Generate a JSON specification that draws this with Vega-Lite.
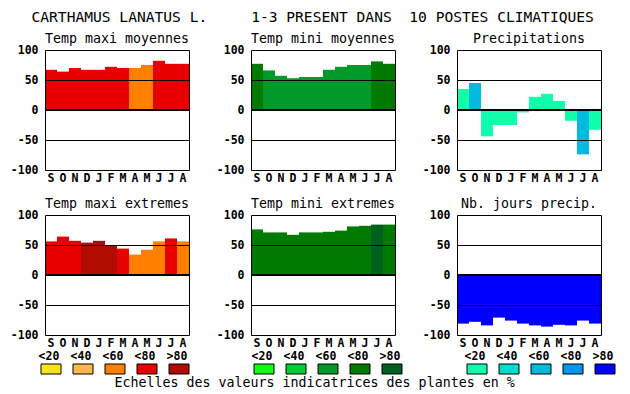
{
  "$schema": "https://vega.github.io/schema/vega-lite/v6.json",
  "padding": {"left": 10, "top": 10, "right": 2, "bottom": 2},
  "background": "white",
  "title": {"text": "CARTHAMUS LANATUS L.\u00a0\u00a0\u00a0\u00a0\u00a01-3 PRESENT DANS\u00a0\u00a010 POSTES CLIMATIQUES", "fontSize": 14.6, "anchor": "middle", "frame": "bounds", "baseline": "top", "offset": 7, "dx": -8},
  "datasets": {
    "mesures": [
      {"panneau": "Temp maxi moyennes", "mois": "sept", "valeur": 67, "classe": "maxi <80"},
      {"panneau": "Temp maxi moyennes", "mois": "oct", "valeur": 64, "classe": "maxi <80"},
      {"panneau": "Temp maxi moyennes", "mois": "nov", "valeur": 70, "classe": "maxi <80"},
      {"panneau": "Temp maxi moyennes", "mois": "dec", "valeur": 67, "classe": "maxi <80"},
      {"panneau": "Temp maxi moyennes", "mois": "janv", "valeur": 67, "classe": "maxi <80"},
      {"panneau": "Temp maxi moyennes", "mois": "fevr", "valeur": 72, "classe": "maxi <80"},
      {"panneau": "Temp maxi moyennes", "mois": "mars", "valeur": 70, "classe": "maxi <80"},
      {"panneau": "Temp maxi moyennes", "mois": "avr", "valeur": 70, "classe": "maxi <60"},
      {"panneau": "Temp maxi moyennes", "mois": "mai", "valeur": 75, "classe": "maxi <60"},
      {"panneau": "Temp maxi moyennes", "mois": "juin", "valeur": 82, "classe": "maxi <80"},
      {"panneau": "Temp maxi moyennes", "mois": "juil", "valeur": 77, "classe": "maxi <80"},
      {"panneau": "Temp maxi moyennes", "mois": "aout", "valeur": 77, "classe": "maxi <80"},
      {"panneau": "Temp mini moyennes", "mois": "sept", "valeur": 77, "classe": "mini <80"},
      {"panneau": "Temp mini moyennes", "mois": "oct", "valeur": 66, "classe": "mini <60"},
      {"panneau": "Temp mini moyennes", "mois": "nov", "valeur": 57, "classe": "mini <60"},
      {"panneau": "Temp mini moyennes", "mois": "dec", "valeur": 53, "classe": "mini <60"},
      {"panneau": "Temp mini moyennes", "mois": "janv", "valeur": 55, "classe": "mini <60"},
      {"panneau": "Temp mini moyennes", "mois": "fevr", "valeur": 55, "classe": "mini <60"},
      {"panneau": "Temp mini moyennes", "mois": "mars", "valeur": 67, "classe": "mini <60"},
      {"panneau": "Temp mini moyennes", "mois": "avr", "valeur": 72, "classe": "mini <60"},
      {"panneau": "Temp mini moyennes", "mois": "mai", "valeur": 75, "classe": "mini <60"},
      {"panneau": "Temp mini moyennes", "mois": "juin", "valeur": 75, "classe": "mini <60"},
      {"panneau": "Temp mini moyennes", "mois": "juil", "valeur": 81, "classe": "mini <80"},
      {"panneau": "Temp mini moyennes", "mois": "aout", "valeur": 77, "classe": "mini <80"},
      {"panneau": "Precipitations", "mois": "sept", "valeur": 35, "classe": "prec <20"},
      {"panneau": "Precipitations", "mois": "oct", "valeur": 45, "classe": "prec <60"},
      {"panneau": "Precipitations", "mois": "nov", "valeur": -44, "classe": "prec <20"},
      {"panneau": "Precipitations", "mois": "dec", "valeur": -25, "classe": "prec <20"},
      {"panneau": "Precipitations", "mois": "janv", "valeur": -25, "classe": "prec <20"},
      {"panneau": "Precipitations", "mois": "fevr", "valeur": -4, "classe": "prec <20"},
      {"panneau": "Precipitations", "mois": "mars", "valeur": 22, "classe": "prec <20"},
      {"panneau": "Precipitations", "mois": "avr", "valeur": 27, "classe": "prec <20"},
      {"panneau": "Precipitations", "mois": "mai", "valeur": 15, "classe": "prec <20"},
      {"panneau": "Precipitations", "mois": "juin", "valeur": -18, "classe": "prec <20"},
      {"panneau": "Precipitations", "mois": "juil", "valeur": -74, "classe": "prec <60"},
      {"panneau": "Precipitations", "mois": "aout", "valeur": -33, "classe": "prec <20"},
      {"panneau": "Temp maxi extremes", "mois": "sept", "valeur": 56, "classe": "maxi <80"},
      {"panneau": "Temp maxi extremes", "mois": "oct", "valeur": 64, "classe": "maxi <80"},
      {"panneau": "Temp maxi extremes", "mois": "nov", "valeur": 57, "classe": "maxi <80"},
      {"panneau": "Temp maxi extremes", "mois": "dec", "valeur": 54, "classe": "maxi >80"},
      {"panneau": "Temp maxi extremes", "mois": "janv", "valeur": 57, "classe": "maxi >80"},
      {"panneau": "Temp maxi extremes", "mois": "fevr", "valeur": 50, "classe": "maxi >80"},
      {"panneau": "Temp maxi extremes", "mois": "mars", "valeur": 44, "classe": "maxi <80"},
      {"panneau": "Temp maxi extremes", "mois": "avr", "valeur": 34, "classe": "maxi <60"},
      {"panneau": "Temp maxi extremes", "mois": "mai", "valeur": 42, "classe": "maxi <60"},
      {"panneau": "Temp maxi extremes", "mois": "juin", "valeur": 56, "classe": "maxi <60"},
      {"panneau": "Temp maxi extremes", "mois": "juil", "valeur": 61, "classe": "maxi <80"},
      {"panneau": "Temp maxi extremes", "mois": "aout", "valeur": 56, "classe": "maxi <60"},
      {"panneau": "Temp mini extremes", "mois": "sept", "valeur": 76, "classe": "mini <80"},
      {"panneau": "Temp mini extremes", "mois": "oct", "valeur": 71, "classe": "mini <80"},
      {"panneau": "Temp mini extremes", "mois": "nov", "valeur": 71, "classe": "mini <80"},
      {"panneau": "Temp mini extremes", "mois": "dec", "valeur": 67, "classe": "mini <80"},
      {"panneau": "Temp mini extremes", "mois": "janv", "valeur": 71, "classe": "mini <80"},
      {"panneau": "Temp mini extremes", "mois": "fevr", "valeur": 71, "classe": "mini <80"},
      {"panneau": "Temp mini extremes", "mois": "mars", "valeur": 72, "classe": "mini <80"},
      {"panneau": "Temp mini extremes", "mois": "avr", "valeur": 74, "classe": "mini <80"},
      {"panneau": "Temp mini extremes", "mois": "mai", "valeur": 81, "classe": "mini <80"},
      {"panneau": "Temp mini extremes", "mois": "juin", "valeur": 82, "classe": "mini <80"},
      {"panneau": "Temp mini extremes", "mois": "juil", "valeur": 84, "classe": "mini >80"},
      {"panneau": "Temp mini extremes", "mois": "aout", "valeur": 84, "classe": "mini <80"},
      {"panneau": "Nb. jours precip.", "mois": "sept", "valeur": -81, "classe": "prec >80"},
      {"panneau": "Nb. jours precip.", "mois": "oct", "valeur": -78, "classe": "prec >80"},
      {"panneau": "Nb. jours precip.", "mois": "nov", "valeur": -84, "classe": "prec >80"},
      {"panneau": "Nb. jours precip.", "mois": "dec", "valeur": -71, "classe": "prec >80"},
      {"panneau": "Nb. jours precip.", "mois": "janv", "valeur": -76, "classe": "prec >80"},
      {"panneau": "Nb. jours precip.", "mois": "fevr", "valeur": -81, "classe": "prec >80"},
      {"panneau": "Nb. jours precip.", "mois": "mars", "valeur": -84, "classe": "prec >80"},
      {"panneau": "Nb. jours precip.", "mois": "avr", "valeur": -86, "classe": "prec >80"},
      {"panneau": "Nb. jours precip.", "mois": "mai", "valeur": -83, "classe": "prec >80"},
      {"panneau": "Nb. jours precip.", "mois": "juin", "valeur": -84, "classe": "prec >80"},
      {"panneau": "Nb. jours precip.", "mois": "juil", "valeur": -76, "classe": "prec >80"},
      {"panneau": "Nb. jours precip.", "mois": "aout", "valeur": -81, "classe": "prec >80"}
    ],
    "legende": [
      {"palette": "maxi", "seuil": "<20", "classe": "maxi <20"},
      {"palette": "maxi", "seuil": "<40", "classe": "maxi <40"},
      {"palette": "maxi", "seuil": "<60", "classe": "maxi <60"},
      {"palette": "maxi", "seuil": "<80", "classe": "maxi <80"},
      {"palette": "maxi", "seuil": ">80", "classe": "maxi >80"},
      {"palette": "mini", "seuil": "<20", "classe": "mini <20"},
      {"palette": "mini", "seuil": "<40", "classe": "mini <40"},
      {"palette": "mini", "seuil": "<60", "classe": "mini <60"},
      {"palette": "mini", "seuil": "<80", "classe": "mini <80"},
      {"palette": "mini", "seuil": ">80", "classe": "mini >80"},
      {"palette": "prec", "seuil": "<20", "classe": "prec <20"},
      {"palette": "prec", "seuil": "<40", "classe": "prec <40"},
      {"palette": "prec", "seuil": "<60", "classe": "prec <60"},
      {"palette": "prec", "seuil": "<80", "classe": "prec <80"},
      {"palette": "prec", "seuil": ">80", "classe": "prec >80"}
    ]
  },
  "data": {"name": "mesures"},
  "spacing": 12,
  "vconcat": [
    {
      "spacing": 26,
      "hconcat": [
        {
          "title": "Temp maxi moyennes", "width": 144, "height": 120,
          "transform": [{"filter": "datum.panneau === 'Temp maxi moyennes'"}],
          "resolve": {"axis": {"y": "independent"}},
          "layer": [
            {"mark": "bar", "encoding": {
              "x": {"field": "mois", "type": "ordinal", "title": null, "sort": ["sept","oct","nov","dec","janv","fevr","mars","avr","mai","juin","juil","aout"], "scale": {"paddingInner": 0, "paddingOuter": 0}, "axis": {"orient": "bottom", "domain": false, "labelAngle": 0, "labelPadding": 2, "labelExpr": "upper(slice(datum.value, 0, 1))"}},
              "y": {"field": "valeur", "type": "quantitative", "title": null, "scale": {"domain": [-100, 100], "nice": false}, "axis": {"orient": "left", "values": [-100, -50, 0, 50, 100], "grid": true, "domain": true, "labelPadding": 7, "zindex": 1, "labelExpr": "toString(datum.value)"}},
              "y2": {"datum": 0},
              "color": {"field": "classe", "type": "nominal", "legend": null, "scale": {"domain": ["maxi <20","maxi <40","maxi <60","maxi <80","maxi >80","mini <20","mini <40","mini <60","mini <80","mini >80","prec <20","prec <40","prec <60","prec <80","prec >80"], "range": ["#f8e41c","#ffb84d","#ff8000","#e80000","#b00c00","#11ff11","#00cc33","#009a2a","#007a00","#006020","#11ffaa","#00ddcc","#00bbdd","#0099ee","#0000ff"]}}
            }},
            {"mark": {"type": "rule", "color": "black"}, "encoding": {
              "y": {"datum": 0, "type": "quantitative", "axis": {"orient": "right", "labels": false, "grid": false, "domain": true, "zindex": 1, "title": null}}
            }}
          ]
        },
        {
          "title": "Temp mini moyennes", "width": 144, "height": 120,
          "transform": [{"filter": "datum.panneau === 'Temp mini moyennes'"}],
          "resolve": {"axis": {"y": "independent"}},
          "layer": [
            {"mark": "bar", "encoding": {
              "x": {"field": "mois", "type": "ordinal", "title": null, "sort": ["sept","oct","nov","dec","janv","fevr","mars","avr","mai","juin","juil","aout"], "scale": {"paddingInner": 0, "paddingOuter": 0}, "axis": {"orient": "bottom", "domain": false, "labelAngle": 0, "labelPadding": 2, "labelExpr": "upper(slice(datum.value, 0, 1))"}},
              "y": {"field": "valeur", "type": "quantitative", "title": null, "scale": {"domain": [-100, 100], "nice": false}, "axis": {"orient": "left", "values": [-100, -50, 0, 50, 100], "grid": true, "domain": true, "labelPadding": 7, "zindex": 1, "labelExpr": "toString(datum.value)"}},
              "y2": {"datum": 0},
              "color": {"field": "classe", "type": "nominal", "legend": null, "scale": {"domain": ["maxi <20","maxi <40","maxi <60","maxi <80","maxi >80","mini <20","mini <40","mini <60","mini <80","mini >80","prec <20","prec <40","prec <60","prec <80","prec >80"], "range": ["#f8e41c","#ffb84d","#ff8000","#e80000","#b00c00","#11ff11","#00cc33","#009a2a","#007a00","#006020","#11ffaa","#00ddcc","#00bbdd","#0099ee","#0000ff"]}}
            }},
            {"mark": {"type": "rule", "color": "black"}, "encoding": {
              "y": {"datum": 0, "type": "quantitative", "axis": {"orient": "right", "labels": false, "grid": false, "domain": true, "zindex": 1, "title": null}}
            }}
          ]
        },
        {
          "title": "Precipitations", "width": 144, "height": 120,
          "transform": [{"filter": "datum.panneau === 'Precipitations'"}],
          "resolve": {"axis": {"y": "independent"}},
          "layer": [
            {"mark": "bar", "encoding": {
              "x": {"field": "mois", "type": "ordinal", "title": null, "sort": ["sept","oct","nov","dec","janv","fevr","mars","avr","mai","juin","juil","aout"], "scale": {"paddingInner": 0, "paddingOuter": 0}, "axis": {"orient": "bottom", "domain": false, "labelAngle": 0, "labelPadding": 2, "labelExpr": "upper(slice(datum.value, 0, 1))"}},
              "y": {"field": "valeur", "type": "quantitative", "title": null, "scale": {"domain": [-100, 100], "nice": false}, "axis": {"orient": "left", "values": [-100, -50, 0, 50, 100], "grid": true, "domain": true, "labelPadding": 7, "zindex": 1, "labelExpr": "toString(datum.value)"}},
              "y2": {"datum": 0},
              "color": {"field": "classe", "type": "nominal", "legend": null, "scale": {"domain": ["maxi <20","maxi <40","maxi <60","maxi <80","maxi >80","mini <20","mini <40","mini <60","mini <80","mini >80","prec <20","prec <40","prec <60","prec <80","prec >80"], "range": ["#f8e41c","#ffb84d","#ff8000","#e80000","#b00c00","#11ff11","#00cc33","#009a2a","#007a00","#006020","#11ffaa","#00ddcc","#00bbdd","#0099ee","#0000ff"]}}
            }},
            {"mark": {"type": "rule", "color": "black"}, "encoding": {
              "y": {"datum": 0, "type": "quantitative", "axis": {"orient": "right", "labels": false, "grid": false, "domain": true, "zindex": 1, "title": null}}
            }}
          ]
        }
      ]
    },
    {
      "spacing": 1,
      "vconcat": [
        {
          "spacing": 26,
          "hconcat": [
            {
              "title": "Temp maxi extremes", "width": 144, "height": 120,
              "transform": [{"filter": "datum.panneau === 'Temp maxi extremes'"}],
              "resolve": {"axis": {"y": "independent"}},
              "layer": [
                {"mark": "bar", "encoding": {
                  "x": {"field": "mois", "type": "ordinal", "title": null, "sort": ["sept","oct","nov","dec","janv","fevr","mars","avr","mai","juin","juil","aout"], "scale": {"paddingInner": 0, "paddingOuter": 0}, "axis": {"orient": "bottom", "domain": false, "labelAngle": 0, "labelPadding": 2, "labelExpr": "upper(slice(datum.value, 0, 1))"}},
                  "y": {"field": "valeur", "type": "quantitative", "title": null, "scale": {"domain": [-100, 100], "nice": false}, "axis": {"orient": "left", "values": [-100, -50, 0, 50, 100], "grid": true, "domain": true, "labelPadding": 7, "zindex": 1, "labelExpr": "toString(datum.value)"}},
                  "y2": {"datum": 0},
                  "color": {"field": "classe", "type": "nominal", "legend": null, "scale": {"domain": ["maxi <20","maxi <40","maxi <60","maxi <80","maxi >80","mini <20","mini <40","mini <60","mini <80","mini >80","prec <20","prec <40","prec <60","prec <80","prec >80"], "range": ["#f8e41c","#ffb84d","#ff8000","#e80000","#b00c00","#11ff11","#00cc33","#009a2a","#007a00","#006020","#11ffaa","#00ddcc","#00bbdd","#0099ee","#0000ff"]}}
                }},
                {"mark": {"type": "rule", "color": "black"}, "encoding": {
                  "y": {"datum": 0, "type": "quantitative", "axis": {"orient": "right", "labels": false, "grid": false, "domain": true, "zindex": 1, "title": null}}
                }}
              ]
            },
            {
              "title": "Temp mini extremes", "width": 144, "height": 120,
              "transform": [{"filter": "datum.panneau === 'Temp mini extremes'"}],
              "resolve": {"axis": {"y": "independent"}},
              "layer": [
                {"mark": "bar", "encoding": {
                  "x": {"field": "mois", "type": "ordinal", "title": null, "sort": ["sept","oct","nov","dec","janv","fevr","mars","avr","mai","juin","juil","aout"], "scale": {"paddingInner": 0, "paddingOuter": 0}, "axis": {"orient": "bottom", "domain": false, "labelAngle": 0, "labelPadding": 2, "labelExpr": "upper(slice(datum.value, 0, 1))"}},
                  "y": {"field": "valeur", "type": "quantitative", "title": null, "scale": {"domain": [-100, 100], "nice": false}, "axis": {"orient": "left", "values": [-100, -50, 0, 50, 100], "grid": true, "domain": true, "labelPadding": 7, "zindex": 1, "labelExpr": "toString(datum.value)"}},
                  "y2": {"datum": 0},
                  "color": {"field": "classe", "type": "nominal", "legend": null, "scale": {"domain": ["maxi <20","maxi <40","maxi <60","maxi <80","maxi >80","mini <20","mini <40","mini <60","mini <80","mini >80","prec <20","prec <40","prec <60","prec <80","prec >80"], "range": ["#f8e41c","#ffb84d","#ff8000","#e80000","#b00c00","#11ff11","#00cc33","#009a2a","#007a00","#006020","#11ffaa","#00ddcc","#00bbdd","#0099ee","#0000ff"]}}
                }},
                {"mark": {"type": "rule", "color": "black"}, "encoding": {
                  "y": {"datum": 0, "type": "quantitative", "axis": {"orient": "right", "labels": false, "grid": false, "domain": true, "zindex": 1, "title": null}}
                }}
              ]
            },
            {
              "title": "Nb. jours precip.", "width": 144, "height": 120,
              "transform": [{"filter": "datum.panneau === 'Nb. jours precip.'"}],
              "resolve": {"axis": {"y": "independent"}},
              "layer": [
                {"mark": "bar", "encoding": {
                  "x": {"field": "mois", "type": "ordinal", "title": null, "sort": ["sept","oct","nov","dec","janv","fevr","mars","avr","mai","juin","juil","aout"], "scale": {"paddingInner": 0, "paddingOuter": 0}, "axis": {"orient": "bottom", "domain": false, "labelAngle": 0, "labelPadding": 2, "labelExpr": "upper(slice(datum.value, 0, 1))"}},
                  "y": {"field": "valeur", "type": "quantitative", "title": null, "scale": {"domain": [-100, 100], "nice": false}, "axis": {"orient": "left", "values": [-100, -50, 0, 50, 100], "grid": true, "domain": true, "labelPadding": 7, "zindex": 1, "labelExpr": "toString(datum.value)"}},
                  "y2": {"datum": 0},
                  "color": {"field": "classe", "type": "nominal", "legend": null, "scale": {"domain": ["maxi <20","maxi <40","maxi <60","maxi <80","maxi >80","mini <20","mini <40","mini <60","mini <80","mini >80","prec <20","prec <40","prec <60","prec <80","prec >80"], "range": ["#f8e41c","#ffb84d","#ff8000","#e80000","#b00c00","#11ff11","#00cc33","#009a2a","#007a00","#006020","#11ffaa","#00ddcc","#00bbdd","#0099ee","#0000ff"]}}
                }},
                {"mark": {"type": "rule", "color": "black"}, "encoding": {
                  "y": {"datum": 0, "type": "quantitative", "axis": {"orient": "right", "labels": false, "grid": false, "domain": true, "zindex": 1, "title": null}}
                }}
              ]
            }
          ]
        },
        {
          "spacing": 46,
          "title": {"text": "Echelles des valeurs indicatrices des plantes en %", "orient": "bottom", "frame": "bounds", "anchor": "middle", "baseline": "top", "offset": 1, "dx": -20},
          "hconcat": [
            {
              "data": {"name": "legende"}, "width": 160, "height": 10,
              "transform": [{"filter": "datum.palette === 'maxi'"}],
              "mark": {"type": "bar", "width": 20, "stroke": "black", "strokeWidth": 1, "xOffset": -10},
              "encoding": {
                "x": {"field": "seuil", "type": "ordinal", "title": null, "sort": ["<20","<40","<60","<80",">80"], "scale": {"paddingInner": 0, "paddingOuter": 0}, "axis": {"orient": "top", "domain": false, "labelAngle": 0, "labelPadding": 3, "labelOffset": -12}},
                "color": {"field": "classe", "type": "nominal", "legend": null, "scale": {"domain": ["maxi <20","maxi <40","maxi <60","maxi <80","maxi >80","mini <20","mini <40","mini <60","mini <80","mini >80","prec <20","prec <40","prec <60","prec <80","prec >80"], "range": ["#f8e41c","#ffb84d","#ff8000","#e80000","#b00c00","#11ff11","#00cc33","#009a2a","#007a00","#006020","#11ffaa","#00ddcc","#00bbdd","#0099ee","#0000ff"]}}
              }
            },
            {
              "data": {"name": "legende"}, "width": 160, "height": 10,
              "transform": [{"filter": "datum.palette === 'mini'"}],
              "mark": {"type": "bar", "width": 20, "stroke": "black", "strokeWidth": 1, "xOffset": -10},
              "encoding": {
                "x": {"field": "seuil", "type": "ordinal", "title": null, "sort": ["<20","<40","<60","<80",">80"], "scale": {"paddingInner": 0, "paddingOuter": 0}, "axis": {"orient": "top", "domain": false, "labelAngle": 0, "labelPadding": 3, "labelOffset": -12}},
                "color": {"field": "classe", "type": "nominal", "legend": null, "scale": {"domain": ["maxi <20","maxi <40","maxi <60","maxi <80","maxi >80","mini <20","mini <40","mini <60","mini <80","mini >80","prec <20","prec <40","prec <60","prec <80","prec >80"], "range": ["#f8e41c","#ffb84d","#ff8000","#e80000","#b00c00","#11ff11","#00cc33","#009a2a","#007a00","#006020","#11ffaa","#00ddcc","#00bbdd","#0099ee","#0000ff"]}}
              }
            },
            {
              "data": {"name": "legende"}, "width": 160, "height": 10,
              "transform": [{"filter": "datum.palette === 'prec'"}],
              "mark": {"type": "bar", "width": 20, "stroke": "black", "strokeWidth": 1, "xOffset": -10},
              "encoding": {
                "x": {"field": "seuil", "type": "ordinal", "title": null, "sort": ["<20","<40","<60","<80",">80"], "scale": {"paddingInner": 0, "paddingOuter": 0}, "axis": {"orient": "top", "domain": false, "labelAngle": 0, "labelPadding": 3, "labelOffset": -12}},
                "color": {"field": "classe", "type": "nominal", "legend": null, "scale": {"domain": ["maxi <20","maxi <40","maxi <60","maxi <80","maxi >80","mini <20","mini <40","mini <60","mini <80","mini >80","prec <20","prec <40","prec <60","prec <80","prec >80"], "range": ["#f8e41c","#ffb84d","#ff8000","#e80000","#b00c00","#11ff11","#00cc33","#009a2a","#007a00","#006020","#11ffaa","#00ddcc","#00bbdd","#0099ee","#0000ff"]}}
              }
            }
          ]
        }
      ]
    }
  ],
  "config": {
    "view": {"stroke": null},
    "font": "DejaVu Sans Mono",
    "title": {"font": "DejaVu Sans Mono", "fontWeight": "normal", "fontSize": 13.3, "color": "black", "anchor": "middle", "frame": "group", "baseline": "bottom", "offset": -1},
    "axis": {"labelFont": "DejaVu Sans Mono", "labelFontWeight": "bold", "labelFontSize": 11.5, "labelColor": "black", "ticks": false, "tickSize": 0, "domainColor": "black", "domainWidth": 1, "gridColor": "black", "gridOpacity": 1, "gridWidth": 1}
  }
}
